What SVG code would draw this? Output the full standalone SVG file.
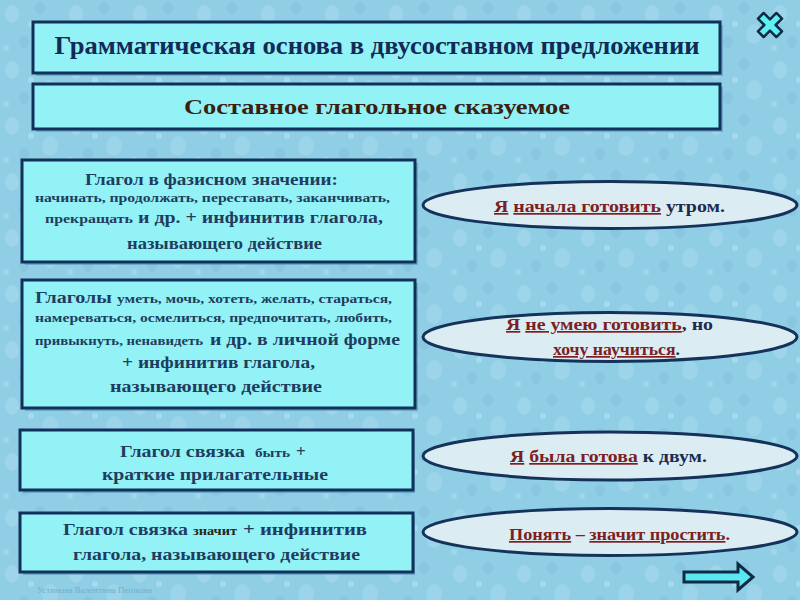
<svg xmlns="http://www.w3.org/2000/svg" width="800" height="600" viewBox="0 0 800 600">
<style>
.box{fill:#92f2f6;stroke:#11305a;stroke-width:3}
.shadow{fill:#3f7fa3;opacity:0.45}
.ell{fill:#dbecf3;stroke:#15335a;stroke-width:3}
.t{font-family:"Liberation Serif","Times New Roman",serif;font-weight:bold;fill:#1f3d5e}
.big{font-size:17px}
.sm{font-size:11.5px}
.ex{font-family:"Liberation Serif","Times New Roman",serif;font-weight:bold;font-size:17px;fill:#1d2b4c}
.u{fill:#7d1f22;text-decoration:underline}
.m{fill:#7d1f22}
</style>
<defs>
<pattern id="drops" width="64" height="56" patternUnits="userSpaceOnUse">
<rect width="64" height="56" fill="#90cee5"/>
<ellipse cx="12" cy="14" rx="7" ry="9" fill="#a9dbee" opacity="0.6"/>
<ellipse cx="40" cy="8" rx="5" ry="6" fill="#7fbfd9" opacity="0.5"/>
<ellipse cx="50" cy="34" rx="8" ry="10" fill="#a6d9ec" opacity="0.55"/>
<ellipse cx="24" cy="42" rx="5" ry="6" fill="#80c0da" opacity="0.5"/>
<circle cx="31" cy="24" r="3" fill="#b6e2f1" opacity="0.6"/>
<circle cx="6" cy="48" r="3" fill="#b0def0" opacity="0.5"/>
</pattern>
</defs>
<rect width="800" height="600" fill="url(#drops)"/>

<g id="title-main">
<rect class="shadow" x="36" y="25" width="687" height="51"/>
<rect class="box" x="33" y="22" width="687" height="51"/>
<text x="377" y="54" text-anchor="middle" font-family="Liberation Serif,Times New Roman,serif" font-weight="bold" font-size="26" fill="#112a56" textLength="645" lengthAdjust="spacingAndGlyphs">Грамматическая основа в двусоставном предложении</text>
</g>

<g id="title-sub">
<rect class="shadow" x="36" y="87" width="687" height="45"/>
<rect class="box" x="33" y="84" width="687" height="45"/>
<text x="377" y="114" text-anchor="middle" font-family="Liberation Serif,Times New Roman,serif" font-weight="bold" font-size="22" fill="#3a1f12" textLength="386" lengthAdjust="spacingAndGlyphs">Составное глагольное сказуемое</text>
</g>

<g id="box-phase">
<rect class="shadow" x="25" y="163" width="393" height="102"/>
<rect class="box" x="22" y="160" width="393" height="102"/>
<text class="t big" x="85" y="185" textLength="253" lengthAdjust="spacingAndGlyphs">Глагол в фазисном значении:</text>
<text class="t sm" x="35" y="202" textLength="355" lengthAdjust="spacingAndGlyphs">начинать, продолжать, переставать, заканчивать,</text>
<text class="t sm" x="45" y="223" textLength="88" lengthAdjust="spacingAndGlyphs">прекращать</text>
<text class="t big" x="138" y="223" textLength="245" lengthAdjust="spacingAndGlyphs">и др. + инфинитив глагола,</text>
<text class="t big" x="127" y="249" textLength="195" lengthAdjust="spacingAndGlyphs">называющего действие</text>
</g>

<g id="box-modal">
<rect class="shadow" x="25" y="283" width="393" height="128"/>
<rect class="box" x="22" y="280" width="393" height="128"/>
<text class="t big" x="35" y="303" textLength="77" lengthAdjust="spacingAndGlyphs">Глаголы</text>
<text class="t sm" x="117" y="303" textLength="275" lengthAdjust="spacingAndGlyphs">уметь, мочь, хотеть, желать, стараться,</text>
<text class="t sm" x="35" y="322" textLength="357" lengthAdjust="spacingAndGlyphs">намереваться, осмелиться, предпочитать, любить,</text>
<text class="t sm" x="35" y="345" textLength="168" lengthAdjust="spacingAndGlyphs">привыкнуть, ненавидеть</text>
<text class="t big" x="210" y="345" textLength="190" lengthAdjust="spacingAndGlyphs">и др. в личной форме</text>
<text class="t big" x="122" y="368" textLength="193" lengthAdjust="spacingAndGlyphs">+ инфинитив глагола,</text>
<text class="t big" x="110" y="392" textLength="212" lengthAdjust="spacingAndGlyphs">называющего действие</text>
</g>

<g id="box-copula-be">
<rect class="shadow" x="23" y="433" width="392" height="60"/>
<rect class="box" x="20" y="430" width="393" height="60"/>
<text class="t big" x="120" y="457" textLength="125" lengthAdjust="spacingAndGlyphs">Глагол связка</text>
<text class="t sm" x="255" y="457" fill="#2a2a2a" textLength="35" lengthAdjust="spacingAndGlyphs">быть</text>
<text class="t big" x="296" y="457">+</text>
<text class="t big" x="102" y="480" textLength="226" lengthAdjust="spacingAndGlyphs">краткие прилагательные</text>
</g>

<g id="box-copula-mean">
<rect class="shadow" x="23" y="516" width="392" height="59"/>
<rect class="box" x="20" y="513" width="393" height="59"/>
<text class="t big" x="63" y="535" textLength="125" lengthAdjust="spacingAndGlyphs">Глагол связка</text>
<text class="t sm" x="193" y="535" style="fill:#2b2418" textLength="44" lengthAdjust="spacingAndGlyphs">значит</text>
<text class="t big" x="243" y="535" textLength="124" lengthAdjust="spacingAndGlyphs">+ инфинитив</text>
<text class="t big" x="73" y="560" textLength="287" lengthAdjust="spacingAndGlyphs">глагола, называющего действие</text>
</g>

<g id="example-1">
<ellipse class="ell" cx="610" cy="205" rx="187" ry="23.5"/>
<text class="ex" x="494" y="212" textLength="231" lengthAdjust="spacingAndGlyphs"><tspan class="u">Я</tspan> <tspan class="u">начала готовить</tspan> утром.</text>
</g>

<g id="example-2">
<ellipse class="ell" cx="610" cy="337" rx="187" ry="24.5"/>
<text class="ex" x="506" y="330" textLength="207" lengthAdjust="spacingAndGlyphs"><tspan class="u">Я</tspan> <tspan class="u">не умею готовить</tspan>, но</text>
<text class="ex" x="553" y="355" textLength="127" lengthAdjust="spacingAndGlyphs"><tspan class="u">хочу научиться</tspan>.</text>
</g>

<g id="example-3">
<ellipse class="ell" cx="610" cy="456" rx="187" ry="24"/>
<text class="ex" x="510" y="462" textLength="197" lengthAdjust="spacingAndGlyphs"><tspan class="u">Я</tspan> <tspan class="u">была готова</tspan> к двум.</text>
</g>

<g id="example-4">
<ellipse class="ell" cx="610" cy="532" rx="187" ry="23.5"/>
<text class="ex m" x="509" y="540" textLength="221" lengthAdjust="spacingAndGlyphs"><tspan class="u">Понять</tspan> – <tspan class="u">значит простить</tspan>.</text>
</g>

<g id="connectors"/>

<g id="close-button" transform="translate(770,25) rotate(45)">
<path d="M-4,-13 H4 V-4 H13 V4 H4 V13 H-4 V4 H-13 V-4 H-4 Z" fill="#5eeff2" stroke="#0f2a44" stroke-width="2.5" stroke-linejoin="round"/>
</g>

<g id="next-arrow">
<path d="M684,572 H738 V564 L753,577 L738,590 V582 H684 Z" fill="#5ae8f0" stroke="#0f2a44" stroke-width="3" stroke-linejoin="miter"/>
</g>

<text x="37" y="593" font-family="Liberation Serif,Times New Roman,serif" font-size="9" fill="#74aecb" textLength="115" lengthAdjust="spacingAndGlyphs">Устинова Валентина Пешкова</text>
</svg>
